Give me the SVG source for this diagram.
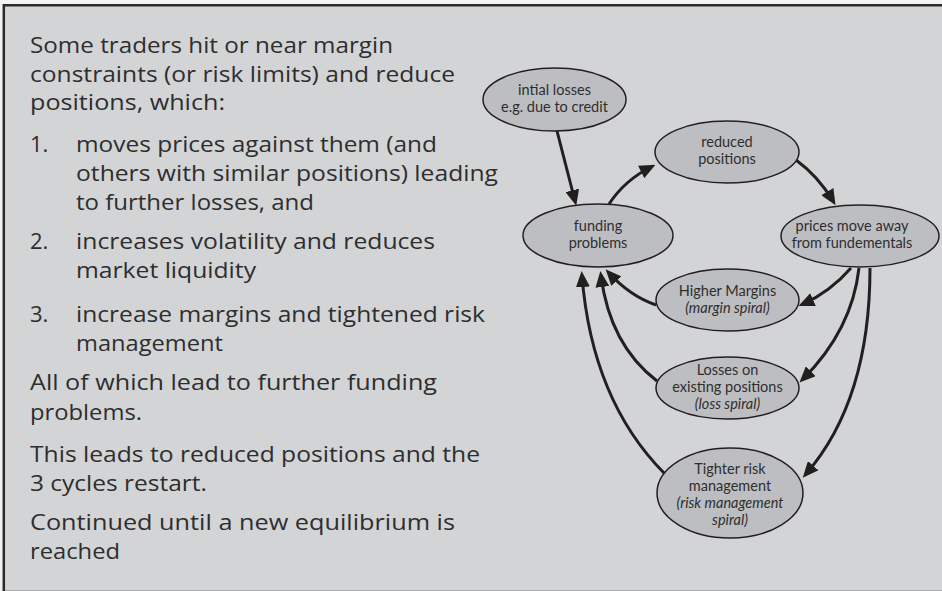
<svg xmlns="http://www.w3.org/2000/svg" width="942" height="591" viewBox="0 0 942 591">
<defs>
<style>
.bg{fill:#d3d4d6}
.frame{stroke:#2a2a2a;stroke-width:2.5;fill:none}
.lt{font-family:"Open Sans",Lato,sans-serif;font-size:22px;fill:#2e2e2e}
.node ellipse{fill:#bdbec1;stroke:#231f20;stroke-width:1.5}
.node text{font-family:Lato,"Open Sans",sans-serif;font-size:14.5px;fill:#2e2e2e;text-anchor:middle}
.it{font-style:italic}
.edge{fill:none;stroke:#231f20;stroke-width:3}
</style>
<marker id="ah" viewBox="0 0 16 14" refX="11" refY="7" markerWidth="16" markerHeight="14" markerUnits="userSpaceOnUse" orient="auto">
<path d="M0,0 L16,7 L0,14 z" fill="#231f20"/>
</marker>
</defs>
<rect x="0" y="0" width="942" height="591" fill="#f2f2f2"/>
<rect class="bg" x="4" y="5" width="938" height="585"/>
<line x1="4" y1="590.5" x2="942" y2="590.5" stroke="#a9aaac" stroke-width="1"/>
<path class="frame" d="M3.8,591 L3.8,5.2 L942,5.2"/>

<g id="text-block">
<text class="lt" x="30" y="53" textLength="363" lengthAdjust="spacingAndGlyphs">Some traders hit or near margin</text>
<text class="lt" x="30" y="82" textLength="425" lengthAdjust="spacingAndGlyphs">constraints (or risk limits) and reduce</text>
<text class="lt" x="30" y="110" textLength="195" lengthAdjust="spacingAndGlyphs">positions, which:</text>
<text class="lt" x="30" y="152">1.</text>
<text class="lt" x="76" y="152" textLength="361" lengthAdjust="spacingAndGlyphs">moves prices against them (and</text>
<text class="lt" x="76" y="181" textLength="422" lengthAdjust="spacingAndGlyphs">others with similar positions) leading</text>
<text class="lt" x="76" y="210" textLength="238" lengthAdjust="spacingAndGlyphs">to further losses, and</text>
<text class="lt" x="30" y="249">2.</text>
<text class="lt" x="76" y="249" textLength="359" lengthAdjust="spacingAndGlyphs">increases volatility and reduces</text>
<text class="lt" x="76" y="278" textLength="180" lengthAdjust="spacingAndGlyphs">market liquidity</text>
<text class="lt" x="30" y="322">3.</text>
<text class="lt" x="76" y="322" textLength="409" lengthAdjust="spacingAndGlyphs">increase margins and tightened risk</text>
<text class="lt" x="76" y="351" textLength="147" lengthAdjust="spacingAndGlyphs">management</text>
<text class="lt" x="30" y="390" textLength="407" lengthAdjust="spacingAndGlyphs">All of which lead to further funding</text>
<text class="lt" x="30" y="420" textLength="112" lengthAdjust="spacingAndGlyphs">problems.</text>
<text class="lt" x="30" y="462" textLength="450" lengthAdjust="spacingAndGlyphs">This leads to reduced positions and the</text>
<text class="lt" x="30" y="491" textLength="177" lengthAdjust="spacingAndGlyphs">3 cycles restart.</text>
<text class="lt" x="30" y="530" textLength="425" lengthAdjust="spacingAndGlyphs">Continued until a new equilibrium is</text>
<text class="lt" x="30" y="559" textLength="90" lengthAdjust="spacingAndGlyphs">reached</text>
</g>

<g id="connectors">
<path class="edge" marker-end="url(#ah)" d="M557,131 L575,201"/>
<path class="edge" marker-end="url(#ah)" d="M609,204 Q625,180 651,167"/>
<path class="edge" marker-end="url(#ah)" d="M796,160 Q818,176 833,201"/>
<path class="edge" marker-end="url(#ah)" d="M851,268 Q830,292 803,304"/>
<path class="edge" marker-end="url(#ah)" d="M859,268 Q852,330 803,379"/>
<path class="edge" marker-end="url(#ah)" d="M870,268 Q870,400 806,474"/>
<path class="edge" marker-end="url(#ah)" d="M656,305 Q630,296 609,273"/>
<path class="edge" marker-end="url(#ah)" d="M657,381 Q610,345 601,276"/>
<path class="edge" marker-end="url(#ah)" d="M664,473 Q592,400 582,276"/>
</g>

<g id="node-initial" class="node">
<ellipse cx="554.5" cy="99.5" rx="71.5" ry="31.5"/>
<text x="554.5" y="95">intial losses</text>
<text x="554.5" y="112">e.g. due to credit</text>
</g>
<g id="node-reduced" class="node">
<ellipse cx="727" cy="152" rx="72" ry="31"/>
<text x="727" y="147">reduced</text>
<text x="727" y="164">positions</text>
</g>
<g id="node-funding" class="node">
<ellipse cx="598" cy="235.5" rx="75" ry="31.5"/>
<text x="598" y="231">funding</text>
<text x="598" y="248">problems</text>
</g>
<g id="node-prices" class="node">
<ellipse cx="860" cy="236" rx="79" ry="31"/>
<text x="852" y="231">prices move away</text>
<text x="852" y="248">from fundementals</text>
</g>
<g id="node-margins" class="node">
<ellipse cx="727.5" cy="300" rx="71.5" ry="31"/>
<text x="727.5" y="296">Higher Margins</text>
<text x="727.5" y="313" class="it">(margin spiral)</text>
</g>
<g id="node-losses" class="node">
<ellipse cx="727.5" cy="388" rx="71.5" ry="31"/>
<text x="727.5" y="375">Losses on</text>
<text x="727.5" y="392">existing positions</text>
<text x="727.5" y="409" class="it">(loss spiral)</text>
</g>
<g id="node-tighter" class="node">
<ellipse cx="730" cy="493" rx="73" ry="45"/>
<text x="730" y="474">Tighter risk</text>
<text x="730" y="491">management</text>
<text x="730" y="508" class="it">(risk management</text>
<text x="730" y="525" class="it">spiral)</text>
</g>
</svg>
